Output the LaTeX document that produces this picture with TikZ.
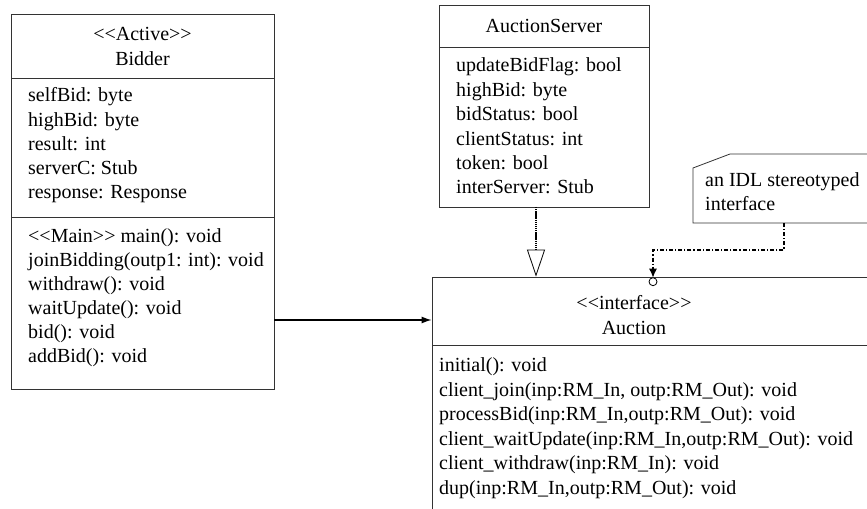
\documentclass[tikz,border=0pt]{standalone}
\usepackage{fontspec}
\setmainfont[Ligatures=TeXOff]{Liberation Serif}
\usetikzlibrary{arrows.meta}
\begin{document}
\begin{tikzpicture}[x=1bp,y=-1bp,
  box/.style={draw=black!80, line width=0.8bp, inner sep=0pt, rectangle},
  sep/.style={draw=black!80, line width=0.8bp},
  txt/.style={anchor=base west, inner sep=0pt, font=\fontsize{20bp}{24bp}\selectfont},
  ctxt/.style={anchor=base, inner sep=0pt, font=\fontsize{20bp}{24bp}\selectfont},
  assoc/.style={draw=black, line width=1.3bp, -{Latex[length=10bp,width=7bp]}},
  realize/.style={draw=black, line width=1.6bp, dash pattern=on 1.4bp off 0.7bp,
    -{Triangle[open, length=27bp, width=18bp, line width=0.8bp]}},
  notelink/.style={draw=black, line width=1.4bp, dash pattern=on 4bp off 2bp on 1.2bp off 2bp,
    -{Latex[length=9bp,width=8bp]}}
]
\useasboundingbox (0,0) rectangle (867,509);
\clip (0,0) rectangle (867,509);

% ---------------- Bidder ----------------
\node[box, minimum width=263bp, minimum height=375bp] (bidder) at (142.5,201.5) {};
\draw[sep] (11,78) -- (274,78);
\draw[sep] (11,217) -- (274,217);
\node[ctxt] (bst) at (142.5,40.5) {<{}<Active>{}>};
\node[ctxt] (bnm) at (142.5,66) {Bidder};
\node[txt] (ba1) at (28,102) {selfBid: byte};
\node[txt] (ba2) at (28,126.2) {highBid: byte};
\node[txt] (ba3) at (28,150.4) {result: int};
\node[txt] (ba4) at (28,174.6) {serverC: Stub};
\node[txt] (ba5) at (28,198.8) {response: Response};
\node[txt] (bm1) at (28,242.3) {<{}<Main>{}> main(): void};
\node[txt] (bm2) at (28,266.5) {joinBidding(outp1: int): void};
\node[txt] (bm3) at (28,290.6) {withdraw(): void};
\node[txt] (bm4) at (28,314.7) {waitUpdate(): void};
\node[txt] (bm5) at (28,338.8) {bid(): void};
\node[txt] (bm6) at (28,362.9) {addBid(): void};

% ---------------- AuctionServer ----------------
\node[box, minimum width=210bp, minimum height=202bp] (server) at (544,106) {};
\draw[sep] (439,47) -- (649,47);
\node[ctxt] (snm) at (544,33) {AuctionServer};
\node[txt] (sa1) at (456,72) {updateBidFlag: bool};
\node[txt] (sa2) at (456,96.4) {highBid: byte};
\node[txt] (sa3) at (456,120.8) {bidStatus: bool};
\node[txt] (sa4) at (456,145.2) {clientStatus: int};
\node[txt] (sa5) at (456,169.6) {token: bool};
\node[txt] (sa6) at (456,194) {interServer: Stub};

% ---------------- Auction ----------------
\node[box, minimum width=448bp, minimum height=300bp] (auction) at (656,427) {};
\draw[sep] (432,345) -- (880,345);
\node[ctxt] (ast) at (634,310) {<{}<interface>{}>};
\node[ctxt] (anm) at (634,334.5) {Auction};
\node[txt] (am1) at (439,371.7) {initial(): void};
\node[txt] (am2) at (439,396.2) {client\_join(inp:RM\_In, outp:RM\_Out): void};
\node[txt] (am3) at (439,420.7) {processBid(inp:RM\_In,outp:RM\_Out): void};
\node[txt] (am4) at (439,445.2) {client\_waitUpdate(inp:RM\_In,outp:RM\_Out): void};
\node[txt] (am5) at (439,469.7) {client\_withdraw(inp:RM\_In): void};
\node[txt] (am6) at (439,494.2) {dup(inp:RM\_In,outp:RM\_Out): void};

% ---------------- Note ----------------
\draw[sep] (730,154) -- (890,154) -- (890,223) -- (693,223) -- (693,168) -- cycle;
\node[txt] (n1) at (705,186.5) {an IDL stereotyped};
\node[txt] (n2) at (705,211) {interface};

% ---------------- Connectors ----------------
\coordinate (h) at (0,320);
\draw[assoc] (bidder.east |- h) -- (auction.west |- h);

\coordinate (g) at (536,207);
\draw[realize] (g) -- (g |- auction.north);

\coordinate (nb) at (784,223);
\coordinate (ct) at (653,277.7);
\draw[notelink] (nb) -- ++(0,27) -| (ct);
\node[circle, draw=black, line width=0.8bp, fill=white, minimum size=8bp, inner sep=0pt] (lol) at (653,281.7) {};
\end{tikzpicture}
\end{document}
